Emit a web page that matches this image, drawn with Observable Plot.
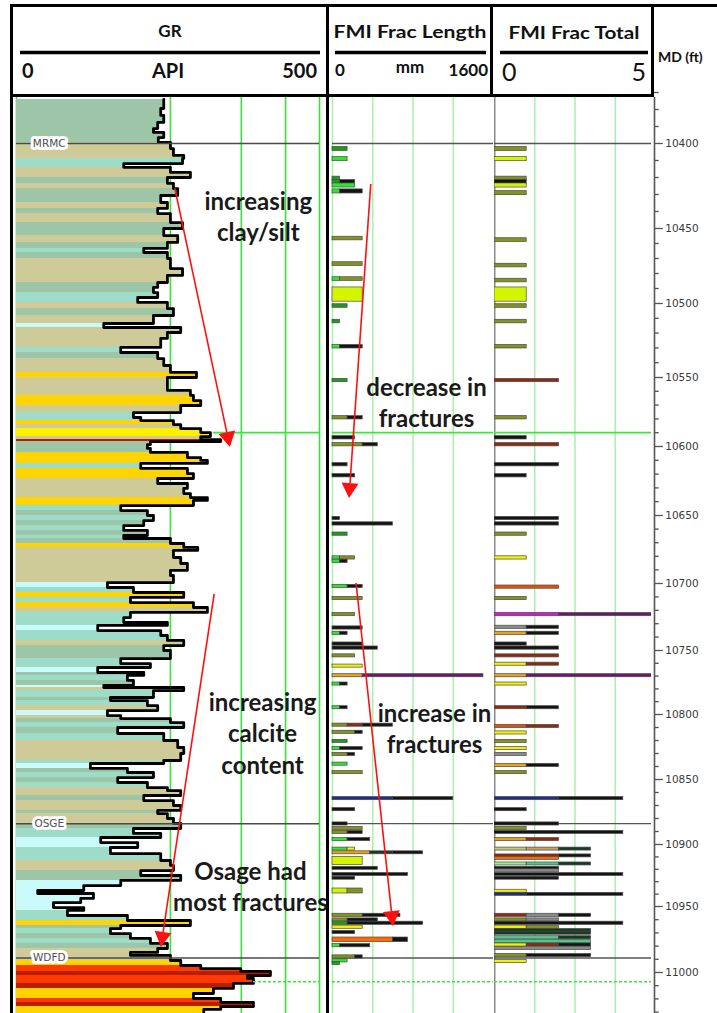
<!DOCTYPE html>
<html><head><meta charset="utf-8">
<script src="https://cdn.jsdelivr.net/npm/d3@7"></script>
<script src="https://cdn.jsdelivr.net/npm/@observablehq/plot@0.6"></script>
<style>
html,body{margin:0;padding:0;background:#fff;}
#page{position:relative;width:717px;height:1013px;overflow:hidden;background:#fff;font-family:Lato,"Open Sans",sans-serif;}
.trk{position:absolute;top:97px;height:916px;}
.trk svg{display:block;}
.bar{position:absolute;background:#000;}
</style></head><body><div id="page"></div>
<script>
// ---------------- DATA ----------------
const depthTicks = [10400,10450,10500,10550,10600,10650,10700,10750,10800,10850,10900,10950,11000];
const depthBottom = 11032;
const grGridAPI = [0, 254, 371, 444, 500];
// [depth top (ft), GR (API), lithology code]
const grSamples = [
[10374,243,"S"],[10376.5,243,"S"],[10379.4,238,"S"],[10383.5,243,"S"],[10387.6,233,"S"],[10391.2,226,"S"],[10393.5,243,"S"],[10396.5,234,"S"],
[10399.4,254,"K"],[10403,259,"K"],[10407,276,"K"],[10408.8,274,"A"],[10411.8,177,"A"],[10414,254,"K"],[10417,287,"K"],[10420,249,"S"],
[10423.5,259,"K"],[10426.5,266,"S"],[10430.6,238,"S"],[10434.7,249,"K"],[10438.2,233,"S"],[10441.2,254,"K"],[10446.5,274,"S"],[10450,243,"S"],
[10454.7,266,"K"],[10459.3,249,"S"],[10463.3,210,"A"],[10466,249,"S"],[10470,254,"K"],[10476.7,274,"K"],[10481.3,249,"K"],[10486,233,"S"],
[10489.3,226,"S"],[10492.7,233,"A"],[10496,200,"A"],[10499.3,249,"K"],[10503.4,259,"S"],[10508.1,226,"K"],[10513.5,144,"C"],[10516.2,271,"K"],
[10519.6,249,"K"],[10523.6,238,"K"],[10529.7,172,"A"],[10533.1,233,"S"],[10537.2,243,"K"],[10541.9,254,"K"],[10546.6,297,"Y"],[10550,249,"K"],
[10553.6,249,"K"],[10559.4,287,"K"],[10563,292,"Y"],[10566.7,304,"Y"],[10570.3,271,"K"],[10575.4,193,"A"],[10579,205,"A"],[10581.2,259,"Y"],
[10584.1,271,"K"],[10587,304,"B"],[10589.9,320,"B"],[10592.8,304,"K"],[10595,337,"D"],[10596.4,221,"S"],[10598.6,216,"S"],[10601.4,221,"S"],
[10604.3,282,"Y"],[10608,304,"Y"],[10610.1,315,"Y"],[10612.3,205,"A"],[10615.9,282,"Y"],[10619.6,292,"Y"],[10623.2,233,"K"],[10626.8,282,"K"],
[10630.4,276,"K"],[10634.1,287,"K"],[10637,315,"Y"],[10639.1,292,"Y"],[10642.8,172,"A"],[10646.4,216,"S"],[10650,226,"A"],[10653.7,210,"S"],
[10657.4,177,"A"],[10661,216,"S"],[10664.7,177,"A"],[10666.9,254,"S"],[10670.6,276,"Y"],[10673.5,299,"K"],[10675.7,259,"K"],[10680.9,271,"K"],
[10685.3,282,"K"],[10690.4,254,"K"],[10694.1,259,"K"],[10699.3,150,"C"],[10703,193,"A"],[10706.7,276,"Y"],[10710.4,188,"A"],[10714.2,292,"Y"],
[10717.9,315,"K"],[10721.6,188,"A"],[10725.4,177,"A"],[10729.1,249,"A"],[10731.3,134,"C"],[10735.1,238,"A"],[10738.8,249,"A"],[10742.5,276,"K"],
[10746.3,243,"S"],[10750,254,"S"],[10753.9,254,"S"],[10756.3,172,"A"],[10760.2,221,"A"],[10763.3,134,"C"],[10767.2,210,"S"],[10769.5,183,"A"],
[10773.4,193,"S"],[10777.3,144,"C"],[10778.9,276,"K"],[10781.3,226,"A"],[10786.7,155,"S"],[10789.1,216,"A"],[10793,233,"K"],[10796.9,150,"C"],
[10800.8,172,"K"],[10803.1,254,"S"],[10806.2,276,"A"],[10810,167,"S"],[10814.6,243,"A"],[10820,266,"K"],[10825.4,276,"K"],[10830,271,"K"],
[10835.4,243,"A"],[10837.7,122,"C"],[10841.5,183,"S"],[10844.6,226,"A"],[10848.5,167,"S"],[10852.3,216,"A"],[10856.2,249,"K"],[10858.5,271,"K"],
[10862.3,210,"S"],[10866.2,259,"K"],[10870,271,"K"],[10873.8,233,"S"],[10876.2,249,"K"],[10880,259,"K"],[10883.8,271,"S"],[10887.7,193,"A"],
[10891.5,238,"A"],[10894.6,139,"C"],[10898.5,200,"C"],[10902.4,155,"A"],[10907.3,238,"A"],[10912.9,254,"K"],[10916.9,259,"K"],[10921,205,"S"],
[10925,271,"S"],[10929,172,"C"],[10933.1,111,"C"],[10937.1,35,"C"],[10939.5,127,"C"],[10943.5,106,"C"],[10946.8,61,"C"],[10950.8,111,"C"],
[10953,84,"A"],[10956.8,183,"A"],[10960.6,287,"Y"],[10964.4,172,"S"],[10966.7,155,"A"],[10970.5,188,"S"],[10974.2,221,"A"],[10978,249,"S"],
[10981.8,233,"K"],[10984.8,188,"K"],[10987.1,254,"K"],[10990.9,271,"Y"],[10994.7,304,"R"],[10997,370,"R"],[10999.2,419,"D"],[11002.3,381,"R"],
[11004.5,391,"R"],[11008.3,358,"D"],[11012.1,325,"Y"],[11015.9,292,"Y"],[11019.7,337,"R"],[11022.7,391,"D"],[11025.8,337,"Y"],[11028,309,"Y"]
];
const lithCodes  = ["S","K","A","C","Y","B","R","D"];
const lithColors = ["#9dc5a8","#cfcb98","#9cdcc8","#cbfafa","#ffd400","#fff000","#ff3a00","#b81d00"];

const fracLenGrid = [0, 400, 800, 1200];
const fracTotGrid = [0, 1.25, 2.5, 3.75];
const fracTypes  = ["dg","lg","ol","yg","bk","gy","br","og","og2","or","ye","mg","pu","nv","tn","ta","dk","tg","lgr"];
const fracColors = ["#1f9a1f","#2ee62e","#84921f","#d4f500","#141414","#8a8a8a","#8b2c12","#e0520a","#e8a21a","#ff6a00","#f2f200","#d21ad2","#6b1a6b","#1c2b8c","#c9c870","#c8a060","#173a22","#4fc98a","#98ee98"];
// [depth top (ft), fracture type, length (mm), optional thickness (ft)]
const fracLenRows = [
[10402,"dg",150],[10408,"lg",150],[10419.5,"dg",75],[10421.5,"dg",75],[10421.5,"bk",150],[10423.5,"lg",225],
[10427,"lg",75],[10427,"bk",225],[10455.5,"ol",300],[10472.5,"ol",300],[10482.5,"lg",75],[10482.5,"ol",225],
[10489.3,"yg",300,9.5],[10500.5,"dg",150],[10511,"dg",75],[10528,"lg",75],[10528,"bk",225],[10551,"dg",150],
[10578,"ol",150],[10578,"bk",150],[10592.5,"bk",225],[10597.5,"ol",300],[10597.5,"bk",150],[10612,"bk",150],
[10620,"bk",225],[10651,"bk",75],[10655,"bk",600],[10662.5,"dg",150],[10680,"lg",75],[10680,"ol",150],
[10682.5,"lg",75],[10682.5,"bk",75],[10701,"lg",150],[10701,"bk",150],[10710,"ol",300],[10722,"ol",225],
[10732,"bk",300],[10736,"lg",75],[10736,"bk",75],[10744,"bk",300],[10747,"bk",450],[10753,"ol",225],
[10761,"ye",300],[10768.5,"og2",300],[10768.5,"pu",1200],[10775,"lg",75],[10775,"bk",75],[10793.5,"lg",75],[10793.5,"bk",75],
[10807,"ol",150],[10807,"br",150],[10807,"bk",300],[10812.5,"ol",225],[10812.5,"bk",75],[10819.5,"dg",150],
[10825,"lg",75],[10825,"bk",225],[10829.5,"ol",150],[10829.5,"bk",75],[10837,"lg",150],[10843.5,"ol",300],
[10863.5,"nv",600],[10863.5,"bk",600],[10872,"bk",225],[10883,"bk",150],[10886.5,"ol",300],[10889.5,"ol",150],[10889.5,"bk",150],
[10895,"lg",150],[10895,"bk",225],[10902.5,"lg",150],[10902.5,"ye",75],[10905.5,"og2",375],[10905.5,"dk",225],[10905.5,"bk",300],
[10910,"yg",300,6.5],[10918,"bk",450],[10923,"bk",750],[10926,"bk",225],[10935.5,"yg",150,4],[10935.5,"ol",150,4],
[10955.5,"ol",300],[10955.5,"bk",375],[10959,"ol",150],[10959,"bk",300],[10961.5,"dg",150],[10961.5,"bk",750],
[10964.5,"ye",300],[10968.5,"bk",225],[10973.5,"or",600,3.5],[10973.5,"bk",150,3.5],[10978.5,"lg",75],[10978.5,"bk",300],
[10987,"ol",225],[10987,"bk",75],[10990,"lg",150],[10992,"dg",75]
];
// [depth top (ft), fracture type, count, optional thickness (ft)]
const fracTotRows = [
[10402,"ol",1],[10408,"yg",1],[10419.5,"ol",1],[10421.5,"bk",1],[10423.5,"yg",1],[10428,"ol",1],[10456.5,"ol",1],
[10473.5,"ol",1],[10483.5,"ol",1],[10489.3,"yg",1,9.5],[10500.5,"ol",1],[10511,"ol",1],[10528,"ol",1],[10551,"br",2],
[10578,"ol",1],[10592.5,"bk",1],[10597.5,"br",2],[10612,"bk",2],[10620,"bk",1],[10651,"bk",2],[10655,"bk",2],
[10662.5,"ol",1],[10680,"ye",1],[10701.5,"og",2],[10710,"ol",1],[10722,"mg",2],[10722,"pu",3],[10731.5,"gy",1],[10731.5,"bk",1],
[10736,"og2",1],[10736,"bk",1],[10744,"bk",1],[10747,"bk",2],[10753,"br",2],[10759.5,"ye",1],[10759.5,"br",1],
[10768.5,"og2",1],[10768.5,"pu",4],[10775,"ye",1],[10793.5,"br",1],[10793.5,"bk",1],[10808,"og",1],[10808,"br",1],
[10813,"ye",1],[10819.5,"ol",1],[10825,"ye",1],[10829.5,"gy",1],[10838,"og2",1],[10838,"bk",1],[10843.5,"ol",1],
[10863.5,"nv",2],[10863.5,"bk",2],[10872,"bk",1],[10883,"bk",2],[10886.5,"ol",1],[10889.5,"bk",4],[10895,"og2",1],[10895,"br",1],
[10902.5,"tn",1],[10902.5,"ta",1],[10902.5,"dk",1],[10908,"br",2],[10908,"bk",1],[10910,"or",2],
[10914.5,"lgr",1],[10914.5,"tg",1],[10914.5,"dk",1],[10918,"bk",2],[10920,"gy",2],[10923,"bk",4],[10926,"bk",2],
[10936.5,"ye",1],[10939,"nv",1],[10939,"bk",3],[10955.5,"br",1],[10955.5,"gy",1],[10955.5,"bk",1],[10959,"ol",1],[10959,"gy",1],
[10961.5,"bk",4],[10964.5,"ye",1],[10964.5,"ol",1],[10967,"dk",3],[10969,"dk",3],[10972.5,"tg",2],[10972.5,"dk",1],
[10975.5,"tg",3],[10978,"ye",1],[10978,"br",1],[10978,"bk",1],[10980.5,"gy",3],[10986,"ol",1],[10986,"bk",2],[10990.5,"ye",1]
];
const formationTops = [["MRMC",10400],["OSGE",10884],["WDFD",10989]];
const markerSolid  = [10590, 325];   // depth, GR where the line starts
const markerDashed = [11007, 391];
const grNotes  = [["increasing\nclay/silt",399,10442.6],["increasing\ncalcite\ncontent",406,10813.8],["Osage had\nmost fractures",386,10933]];
const lenNotes = [["decrease in\nfractures",934,10567.4],["increase in\nfractures",1014,10810]];
const grArrows  = [[262,10426.5,353,10600.7],[327,10708.2,239,10981]];
const lenArrows = [[385,10424.1,169,10637.7],[239,10700,606,10965.2]];

// ---------------- LAYOUT ----------------
const page = document.getElementById("page");
const TRACK_H = 916;
// the reference's depth axis is not evenly spaced: map each labelled depth to its row
const depthRows = [46,131,206,280,349,418,486,553,617,682,747,809,875];
const depthToRow = d3.scaleLinear().domain(depthTicks).range(depthRows);
const yOpt = {transform: depthToRow, domain: [0, TRACK_H], range: [0, TRACK_H], axis: null};
const BIN = 2.4;
const FONT = "Lato, 'Open Sans', sans-serif";

function addBar(l,t,w,h,c){const d=document.createElement("div");d.className="bar";Object.assign(d.style,{left:l+"px",top:t+"px",width:w+"px",height:h+"px",background:c||"#000"});page.appendChild(d);}
function addTrack(left, width, svg, clip){const d=document.createElement("div");d.className="trk";d.style.left=left+"px";d.style.width=width+"px";d.style.overflow=clip?"hidden":"visible";if(!clip)svg.style.overflow="visible";d.appendChild(svg);page.appendChild(d);}

function stackRows(rows){
  const out=[];let prev=null,acc=0;
  for(const [d,type,v,th] of rows){ if(d!==prev){acc=0;prev=d;} out.push({y1:d,y2:d+(th??BIN),x1:acc,x2:acc+v,type}); acc+=v; }
  return out;
}
const NS="http://www.w3.org/2000/svg";
function arrowMark(arrows){
  return (index, scales) => {
    const g=document.createElementNS(NS,"g");
    for(const [xa,ya,xb,yb] of arrows){
      const x1=scales.x(xa),y1=scales.y(depthToRow(ya)),x2=scales.x(xb),y2=scales.y(depthToRow(yb));
      const dx=x2-x1,dy=y2-y1,L=Math.hypot(dx,dy),ux=dx/L,uy=dy/L,hl=15,hw=8.5;
      const bx=x2-ux*hl,by=y2-uy*hl;
      const ln=document.createElementNS(NS,"line");
      ln.setAttribute("x1",x1);ln.setAttribute("y1",y1);ln.setAttribute("x2",bx);ln.setAttribute("y2",by);
      ln.setAttribute("stroke","#ff1010");ln.setAttribute("stroke-width","1.6");g.appendChild(ln);
      const p=document.createElementNS(NS,"polygon");
      p.setAttribute("points",`${x2},${y2} ${bx-uy*hw},${by+ux*hw} ${bx+uy*hw},${by-ux*hw}`);
      p.setAttribute("fill","#ff1010");g.appendChild(p);
    }
    return g;
  };
}
const noteOpts = () => ({x: d=>d[1], y: d=>d[2], text: d=>d[0], fontSize: 24, fontWeight: "bold", lineHeight: 1.3, fill: "#1a1a1a", fontFamily: FONT, textAnchor: "middle"});

// header
const hdr = document.createElementNS(NS,"svg");
hdr.setAttribute("width","717");hdr.setAttribute("height","97");
hdr.style.position="absolute";hdr.style.left="0";hdr.style.top="0";
hdr.innerHTML = `
<g font-family="Lato, 'Open Sans', sans-serif" fill="#111">
<text x="170" y="37" text-anchor="middle" font-weight="bold" font-size="17">GR</text>
<line x1="20" x2="320" y1="52.5" y2="52.5" stroke="#000" stroke-width="3.5"/>
<text x="22" y="78" font-weight="bold" font-size="20">0</text>
<text x="168" y="78" text-anchor="middle" font-weight="bold" font-size="20">API</text>
<text x="317" y="78" text-anchor="end" font-weight="bold" font-size="20">500</text>
<text x="410" y="38" text-anchor="middle" font-weight="bold" font-size="16.5" textLength="153" lengthAdjust="spacingAndGlyphs">FMI Frac Length</text>
<line x1="335" x2="486" y1="52.5" y2="52.5" stroke="#000" stroke-width="3.5"/>
<text x="335" y="76" font-weight="bold" font-size="17">0</text>
<text x="410" y="73" text-anchor="middle" font-weight="bold" font-size="17">mm</text>
<text x="488" y="76" text-anchor="end" font-weight="bold" font-size="17">1600</text>
<text x="574" y="39" text-anchor="middle" font-weight="bold" font-size="16.5" textLength="131" lengthAdjust="spacingAndGlyphs">FMI Frac Total</text>
<line x1="500" x2="648" y1="52.5" y2="52.5" stroke="#000" stroke-width="3.5"/>
<text x="502" y="81" font-size="25">0</text>
<text x="646" y="81" text-anchor="end" font-size="25">5</text>
<text x="658" y="62" font-weight="bold" font-size="14">MD (ft)</text>
</g>`;
page.appendChild(hdr);
addBar(10,4,707,3); addBar(10,94,644,3);
addBar(10,4,3,1009); addBar(326,4,3,1009);
addBar(490,4,3,93); addBar(651,4,3,93);

// GR track
const grRects = grSamples.map((s,i)=>({y1:s[0], y2: i+1<grSamples.length?grSamples[i+1][0]:depthBottom, v:s[1], lith:s[2]}));
const grLine = [...grSamples.map(s=>({d:s[0],v:s[1]})), {d:depthBottom, v:grSamples[grSamples.length-1][1]}];
const grPlot = Plot.plot({
  width: 313, height: TRACK_H, margin: 0,
  x: {domain:[0,500], range:[3,306], axis:null},
  y: yOpt,
  color: {domain: lithCodes, range: lithColors},
  style: {background:"transparent"},
  marks: [
    Plot.ruleX(grGridAPI, {stroke:"#3de03d", strokeWidth:1.6}),
    Plot.rect(grRects, {x1:0, x2:"v", y1:"y1", y2:"y2", fill:"lith", shapeRendering:"crispEdges"}),
    Plot.line(grLine, {x:"v", y:"d", curve:"step-before", stroke:"#000", strokeWidth:2.8}),
    Plot.ruleY(formationTops, {y:d=>d[1], x1:0, x2:500, stroke:"#4a4a4a", strokeWidth:1.5}),
    Plot.ruleY([markerSolid], {y:d=>d[0], x1:d=>d[1], x2:500, stroke:"#33ee33", strokeWidth:1.8}),
    Plot.ruleY([markerDashed], {y:d=>d[0], x1:d=>d[1], x2:500, stroke:"#33ee33", strokeWidth:1.6, strokeDasharray:"3,2"}),
    Plot.text(formationTops, {x:54, y:d=>d[1], text:d=>d[0], fontSize:10.5, fill:"#505050", stroke:"white", strokeWidth:6, fontFamily:"'Liberation Sans Narrow','DejaVu Sans',sans-serif"}),
    Plot.text(grNotes, noteOpts()),
    arrowMark(grArrows)
  ]
});
addTrack(13, 313, grPlot, false);

// Frac length track
const lenBars = stackRows(fracLenRows);
const lenPlot = Plot.plot({
  width: 164, height: TRACK_H, margin: 0,
  x: {domain:[0,1600], range:[2,163], axis:null},
  y: yOpt,
  color: {domain: fracTypes, range: fracColors},
  style: {background:"transparent"},
  marks: [
    Plot.ruleX(fracLenGrid, {stroke:"#aaf0aa", strokeWidth:1.5}),
    Plot.ruleY(formationTops, {y:d=>d[1], x1:0, x2:1600, stroke:"#555", strokeWidth:1.3}),
    Plot.ruleY([markerSolid], {y:d=>d[0], x1:0, x2:1600, stroke:"#33ee33", strokeWidth:1.8}),
    Plot.ruleY([markerDashed], {y:d=>d[0], x1:0, x2:1600, stroke:"#44e044", strokeWidth:1.6, strokeDasharray:"3,2"}),
    Plot.rect(lenBars, {x1:"x1", x2:"x2", y1:"y1", y2:"y2", fill:"type", stroke:"#4a4a4a", strokeWidth:0.7}),
    Plot.text(lenNotes, noteOpts()),
    arrowMark(lenArrows)
  ]
});
addTrack(330, 164, lenPlot, false);

// Frac total track
const totBars = stackRows(fracTotRows);
const totPlot = Plot.plot({
  width: 157, height: TRACK_H, margin: 0,
  x: {domain:[0,5], range:[0,161], axis:null},
  y: yOpt,
  color: {domain: fracTypes, range: fracColors},
  style: {background:"transparent"},
  marks: [
    Plot.ruleX(fracTotGrid.slice(1), {stroke:"#aaf0aa", strokeWidth:1.5}),
    Plot.ruleX([0], {stroke:"#8a8a8a", strokeWidth:2}),
    Plot.ruleY(formationTops, {y:d=>d[1], x1:0, x2:5, stroke:"#555", strokeWidth:1.3}),
    Plot.ruleY([markerSolid], {y:d=>d[0], x1:0, x2:5, stroke:"#33ee33", strokeWidth:1.8}),
    Plot.ruleY([markerDashed], {y:d=>d[0], x1:0, x2:5, stroke:"#44e044", strokeWidth:1.6, strokeDasharray:"3,2"}),
    Plot.rect(totBars, {x1:"x1", x2:"x2", y1:"y1", y2:"y2", fill:"type", stroke:"#4a4a4a", strokeWidth:0.7})
  ]
});
addTrack(494, 157, totPlot, true);

// Depth track
const minorTicks = d3.range(10370, 11031, 10).filter(d => d % 50 !== 0);
const mdPlot = Plot.plot({
  width: 65, height: TRACK_H, margin: 0,
  x: {domain:[0,1], range:[2,65], axis:null},
  y: yOpt,
  style: {background:"transparent"},
  marks: [
    Plot.ruleX([0], {stroke:"#555", strokeWidth:1.6}),
    Plot.ruleY(minorTicks, {x1:0, x2:0.075, stroke:"#555", strokeWidth:1.3}),
    Plot.ruleY(depthTicks, {x1:0, x2:0.14, stroke:"#555", strokeWidth:1.3}),
    Plot.text(depthTicks, {x:0.17, y:d=>d, text:d=>String(d), textAnchor:"start", fontSize:10.5, fill:"#3a3a3a", fontFamily:"'DejaVu Sans',sans-serif"})
  ]
});
addTrack(652, 65, mdPlot, false);
</script></body></html>
